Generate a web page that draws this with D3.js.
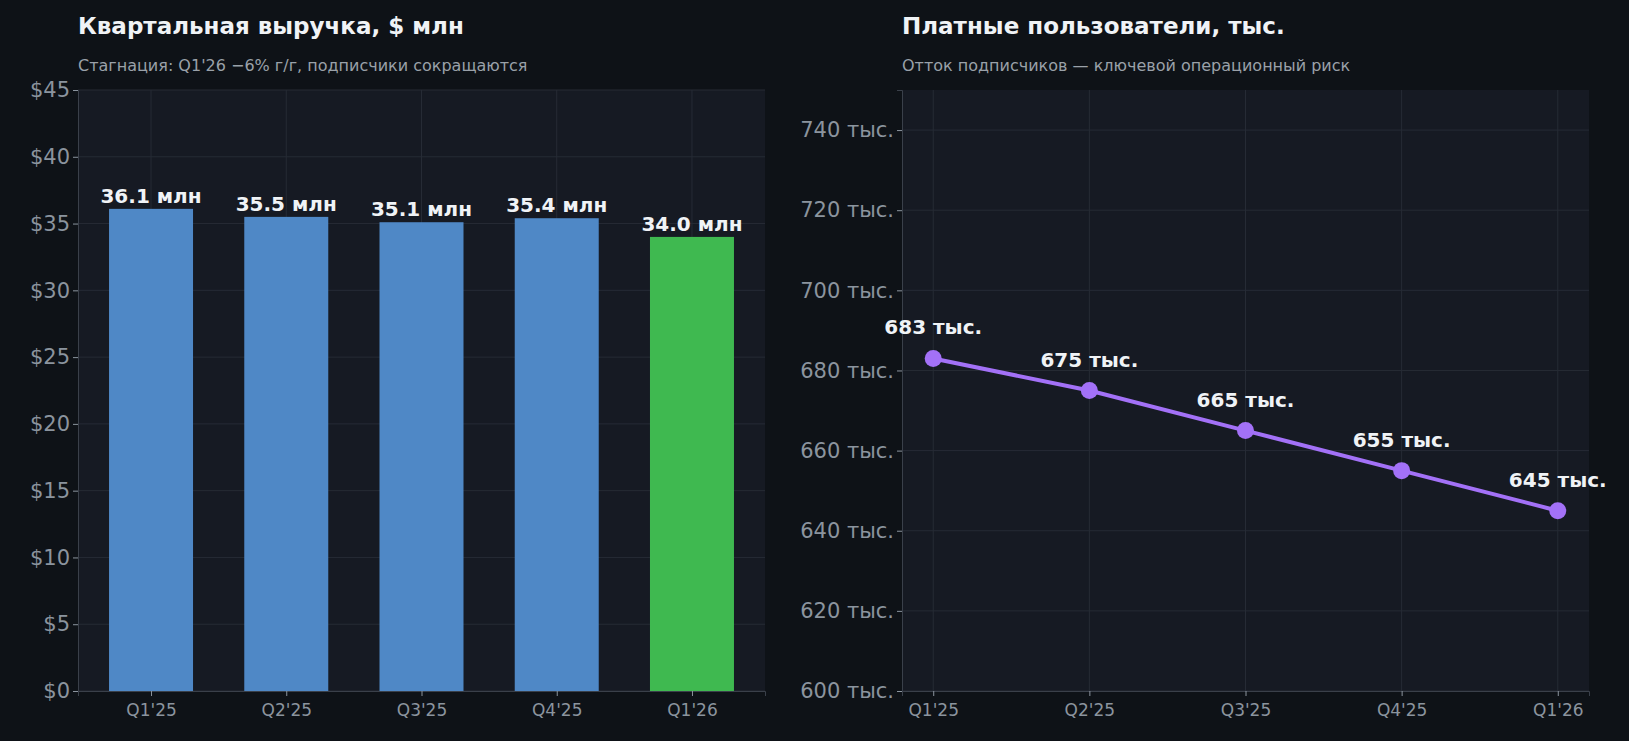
<!DOCTYPE html>
<html><head><meta charset="utf-8">
<script src="https://cdn.jsdelivr.net/npm/d3@7"></script>
<style>body{margin:0;background:#0e1217;font-family:"DejaVu Sans",sans-serif;}</style>
</head><body><svg id="c" width="1629" height="741"></svg>
<script>
var quarters = ["Q1'25", "Q2'25", "Q3'25", "Q4'25", "Q1'26"];
var revenue = [36.1, 35.5, 35.1, 35.4, 34.0];
var users = [683, 675, 665, 655, 645];
var revTicks = [0, 5, 10, 15, 20, 25, 30, 35, 40, 45];
var userTicks = [600, 620, 640, 660, 680, 700, 720, 740];

var svg = d3.select("#c");
svg.append("rect").attr("width", 1629).attr("height", 741).attr("fill", "#0e1217");
var plotTop = 90, plotBottom = 691;
var grid = "#262b35", tickCol = "#8b949e", white = "#f0f3f6";

function panel(x0, x1, title, sub) {
    svg.append("rect").attr("x", x0).attr("y", plotTop).attr("width", x1 - x0).attr("height", plotBottom - plotTop).attr("fill", "#161a23");
    svg.append("text").attr("x", x0).attr("y", 34).text(title).attr("fill", white).attr("font-size", 23).attr("font-weight", "bold");
    svg.append("text").attr("x", x0).attr("y", 71).text(sub).attr("fill", "#9aa1a9").attr("font-size", 16);
}
function axes(x, y, ticks, fmt, x0, x1) {
    var g = svg.append("g");
    g.selectAll(".hg").data(ticks).enter().append("line")
        .attr("x1", x0).attr("x2", x1).attr("y1", y).attr("y2", y).attr("stroke", grid);
    g.selectAll(".vg").data(quarters).enter().append("line")
        .attr("x1", x).attr("x2", x).attr("y1", plotTop).attr("y2", plotBottom).attr("stroke", grid);
    var ya = svg.append("g").attr("transform", "translate(" + x0 + ",0)")
        .call(d3.axisLeft(y).tickValues(ticks).tickFormat(fmt).tickSize(5));
    var xa = svg.append("g").attr("transform", "translate(0," + plotBottom + ")")
        .call(d3.axisBottom(x).tickSize(5).tickPadding(8));
    [ya, xa].forEach(function (a) {
        a.select(".domain").attr("stroke", "#3a404a");
        a.selectAll(".tick line").attr("stroke", tickCol);
        a.selectAll("text").attr("fill", tickCol).attr("font-family", "DejaVu Sans");
    });
    ya.selectAll("text").attr("font-size", 21);
    xa.selectAll("text").attr("font-size", 17);
}

// left: revenue bars
var lx0 = 78, lx1 = 765;
panel(lx0, lx1, "Квартальная выручка, $ млн", "Стагнация: Q1'26 −6% г/г, подписчики сокращаются");
var xl = d3.scalePoint().domain(quarters).range([lx0, lx1]).padding(0.54);
var yl = d3.scaleLinear().domain([0, 45]).range([plotBottom, plotTop]);
axes(xl, yl, revTicks, function (d) { return "$" + d; }, lx0, lx1);
var bw = 84;
svg.selectAll(".bar").data(revenue).enter().append("rect")
    .attr("x", function (d, i) { return xl(quarters[i]) - bw / 2; })
    .attr("y", function (d) { return yl(d); })
    .attr("width", bw).attr("height", function (d) { return plotBottom - yl(d); })
    .attr("fill", function (d, i) { return i === 4 ? "#3fb950" : "#4f88c6"; });
svg.selectAll(".bl").data(revenue).enter().append("text")
    .attr("x", function (d, i) { return xl(quarters[i]); })
    .attr("y", function (d) { return yl(d) - 6; })
    .attr("text-anchor", "middle").attr("fill", white).attr("font-size", 20).attr("font-weight", "bold")
    .text(function (d) { return d.toFixed(1) + " млн"; });

// right: users line
var rx0 = 902, rx1 = 1589;
panel(rx0, rx1, "Платные пользователи, тыс.", "Отток подписчиков — ключевой операционный риск");
var xr = d3.scalePoint().domain(quarters).range([rx0, rx1]).padding(0.2);
var yr = d3.scaleLinear().domain([600, 750]).range([plotBottom, plotTop]);
axes(xr, yr, userTicks, function (d) { return d + " тыс."; }, rx0, rx1);
var line = d3.line().x(function (d, i) { return xr(quarters[i]); }).y(function (d) { return yr(d); });
svg.append("path").datum(users).attr("d", line).attr("fill", "none").attr("stroke", "#a371f7").attr("stroke-width", 4);
svg.selectAll(".pt").data(users).enter().append("circle")
    .attr("cx", function (d, i) { return xr(quarters[i]); }).attr("cy", function (d) { return yr(d); })
    .attr("r", 8.5).attr("fill", "#a371f7");
svg.selectAll(".ul").data(users).enter().append("text")
    .attr("x", function (d, i) { return xr(quarters[i]); })
    .attr("y", function (d) { return yr(d) - 24; })
    .attr("text-anchor", "middle").attr("fill", white).attr("font-size", 20).attr("font-weight", "bold")
    .text(function (d) { return d + " тыс."; });
</script></body></html>
